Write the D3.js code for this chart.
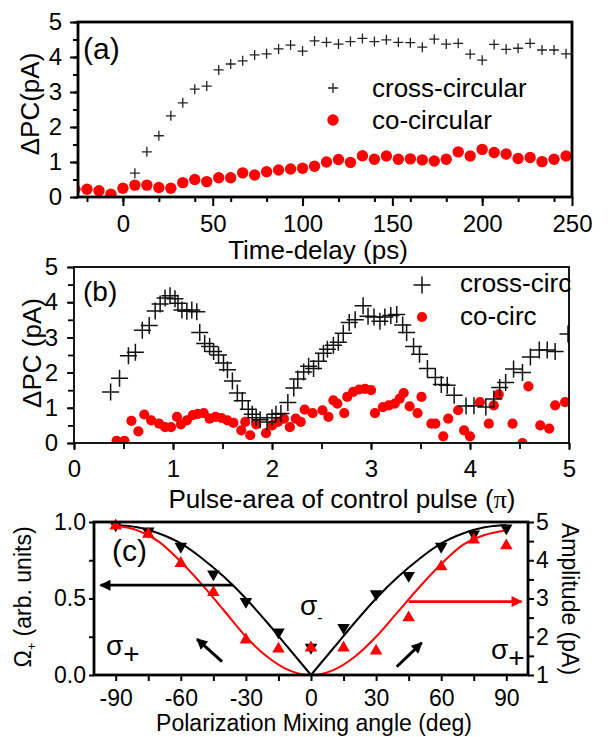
<!DOCTYPE html>
<html>
<head>
<meta charset="utf-8">
<script src="https://cdn.jsdelivr.net/npm/d3@7"></script>
<style>
body { margin: 0; background: #fff; }
</style>
</head>
<body>
<svg width="608" height="737"></svg>
<script>
// ---- data (a): photocurrent vs time delay
var delayCross = [6.67, 13.33, 20, 26.67, 33.33, 40, 46.67, 53.33, 60, 66.67, 73.33, 80, 86.67, 93.33, 100,
  106.67, 113.33, 120, 126.67, 133.33, 140, 146.67, 153.33, 160, 166.67, 173.33, 180, 186.67, 193.33, 200,
  206.67, 213.33, 220, 226.67, 233.33, 240, 246.67];
var pcCrossA = [0.68, 1.29, 1.75, 2.32, 2.69, 3.08, 3.17, 3.63, 3.80, 3.89, 4.06, 4.09, 4.23, 4.34, 4.17,
  4.46, 4.42, 4.37, 4.44, 4.53, 4.44, 4.49, 4.42, 4.41, 4.28, 4.51, 4.37, 4.39, 4.08, 3.91,
  4.36, 4.22, 4.25, 4.39, 4.20, 4.20, 4.09];
var delayCo = [-26.67, -20, -13.33, -6.67, 0, 6.67, 13.33, 20, 26.67, 33.33, 40, 46.67, 53.33, 60, 66.67, 73.33,
  80, 86.67, 93.33, 100, 106.67, 113.33, 120, 126.67, 133.33, 140, 146.67, 153.33, 160, 166.67, 173.33,
  180, 186.67, 193.33, 200, 206.67, 213.33, 220, 226.67, 233.33, 240, 246.67];
var pcCoA = [0.22, 0.22, 0.18, 0.08, 0.25, 0.34, 0.34, 0.27, 0.25, 0.41, 0.50, 0.44, 0.55, 0.55, 0.69, 0.63,
  0.72, 0.77, 0.80, 0.82, 0.88, 1.00, 1.07, 0.99, 1.18, 1.08, 1.17, 1.08, 1.09, 1.06, 1.03,
  1.08, 1.29, 1.17, 1.36, 1.27, 1.23, 1.10, 1.13, 1.01, 1.08, 1.17];
var delayTicks = [0, 50, 100, 150, 200, 250];
var pcTicks = [0, 1, 2, 3, 4, 5];

// ---- data (b): photocurrent vs pulse area
var areaCross = [0.37, 0.46, 0.55, 0.62, 0.69, 0.76, 0.82, 0.87, 0.92, 0.97, 1.02, 1.05, 1.09, 1.14, 1.19,
  1.24, 1.27, 1.32, 1.37, 1.41, 1.46, 1.51, 1.55, 1.6, 1.65, 1.7, 1.76, 1.8, 1.84, 1.88, 1.95, 2.0, 2.04,
  2.09, 2.16, 2.22, 2.26, 2.32, 2.37, 2.42, 2.47, 2.52, 2.56, 2.62, 2.67, 2.72, 2.78, 2.84, 2.92, 2.97,
  3.03, 3.09, 3.14, 3.2, 3.26, 3.32, 3.36, 3.43, 3.49, 3.57, 3.65, 3.71, 3.77, 3.84, 3.96, 4.04, 4.16,
  4.24, 4.3, 4.36, 4.44, 4.53, 4.61, 4.7, 4.78, 4.86, 4.99];
var pcCrossB = [1.45, 1.84, 2.48, 2.58, 3.2, 3.34, 3.75, 3.95, 4.12, 4.18, 4.1, 3.97, 3.78, 3.74, 3.78,
  3.73, 3.14, 2.83, 2.74, 2.6, 2.5, 2.27, 2.08, 1.76, 1.42, 1.2, 0.96, 0.82, 0.72, 0.66, 0.6, 0.72, 0.82,
  0.84, 1.15, 1.56, 1.82, 2.02, 2.18, 2.12, 2.32, 2.55, 2.66, 2.78, 2.86, 3.12, 3.42, 3.5, 3.9, 3.6,
  3.58, 3.46, 3.58, 3.62, 3.65, 3.35, 3.14, 2.74, 2.52, 2.12, 1.86, 1.66, 1.64, 1.36, 1.05, 1.06, 1.02,
  1.25, 1.58, 1.72, 2.1, 2.0, 2.44, 2.64, 2.64, 2.6, 3.1];
var areaCo = [0.43, 0.51, 0.58, 0.65, 0.71, 0.78, 0.86, 0.92, 0.98, 1.04, 1.08, 1.14, 1.2, 1.25, 1.31,
  1.37, 1.43, 1.49, 1.55, 1.61, 1.69, 1.73, 1.78, 1.84, 1.94, 2.0, 2.06, 2.12, 2.18, 2.24, 2.29, 2.33,
  2.41, 2.51, 2.57, 2.62, 2.66, 2.73, 2.76, 2.82, 2.88, 2.94, 3.0, 3.04, 3.12, 3.18, 3.24, 3.29, 3.33,
  3.39, 3.47, 3.51, 3.61, 3.65, 3.73, 3.78, 3.88, 3.94, 4.0, 4.1, 4.19, 4.24, 4.29, 4.43, 4.53, 4.59,
  4.71, 4.8, 4.86, 4.96];
var pcCoB = [0.06, 0.06, 0.63, 0.33, 0.81, 0.64, 0.55, 0.45, 0.45, 0.74, 0.53, 0.64, 0.79, 0.83, 0.85,
  0.69, 0.74, 0.71, 0.64, 0.57, 0.36, 0.6, 0.22, 0.53, 0.28, 0.5, 0.6, 0.69, 0.45, 0.69, 0.6, 0.95,
  0.85, 0.93, 0.74, 1.21, 1.12, 0.85, 1.31, 1.45, 1.52, 1.54, 1.5, 0.85, 1.02, 1.07, 1.12, 1.26, 1.42,
  1.04, 0.85, 1.31, 0.55, 0.55, 0.19, 0.69, 0.93, 0.36, 0.19, 1.16, 0.55, 1.07, 1.38, 0.55, 0.0, 1.61,
  0.5, 0.41, 1.07, 1.16];
var areaTicks = [0, 1, 2, 3, 4, 5];

// ---- data (c): mixing angle
var mixAngles = [-90, -75, -60, -45, -30, -15, 0, 15, 30, 45, 60, 75, 90];
var omegaPts = [0.98, 0.94, 0.84, 0.66, 0.48, 0.28, 0.18, 0.31, 0.53, 0.65, 0.84, 0.92, 0.96];
var ampPts = [4.9, 4.68, 3.92, 3.16, 1.92, 1.68, 1.71, 1.71, 1.63, 2.5, 3.83, 4.53, 4.38];
var fitAnglesLeft = [-90, -80, -70, -60, -50, -40, -30, -20, -10, 0];
var fitAnglesRight = [0, 10, 20, 30, 40, 50, 60, 70, 80, 90];
var omegaFitLeft = [0.98, 0.965, 0.925, 0.86, 0.76, 0.64, 0.50, 0.34, 0.17, 0.0];
var omegaFitRight = [0.0, 0.17, 0.34, 0.50, 0.64, 0.76, 0.86, 0.925, 0.965, 0.98];
var fitAngles = [-90, -80, -70, -60, -50, -40, -30, -20, -10, 0, 10, 20, 30, 40, 50, 60, 70, 80, 90];
var ampFit = [4.9, 4.78, 4.48, 3.96, 3.35, 2.68, 2.0, 1.47, 1.12, 1.0, 1.12, 1.47, 2.0, 2.65, 3.3, 3.9, 4.4, 4.66, 4.78];
var angleTicks = [-90, -60, -30, 0, 30, 60, 90];
var angleMinor = [-75, -45, -15, 15, 45, 75];
var omegaTicks = [0, 0.5, 1];
var omegaMinor = [0.25, 0.75];
var ampTicks = [1, 2, 3, 4, 5];
var ampMinor = [1.5, 2.5, 3.5, 4.5];

var svg = d3.select("svg");
var font = "Arial, 'Liberation Sans', Helvetica, sans-serif";
svg.attr("font-family", font);

var plusPath = function(r) {
  return "M" + (-r) + ",0H" + r + "M0," + (-r) + "V" + r;
};

var styleAxis = function(sel, size, sw) {
  sel.select(".domain").remove();
  sel.selectAll("line").attr("stroke-width", sw);
  sel.attr("font-size", size).attr("font-family", font);
};

var defs = svg.append("defs");

// ================= (a) =================
var xA = d3.scaleLinear().domain([-25, 250]).range([78, 572]);
var yA = d3.scaleLinear().domain([0, 5]).range([197, 22]);

defs.append("clipPath").attr("id", "clipA")
.append("rect")
.attr("x", 78).attr("y", 22).attr("width", 494).attr("height", 175);

svg.append("g")
.attr("transform", "translate(0,197)")
.call(d3.axisBottom(xA).tickValues(xA.ticks(11)).tickSize(5).tickFormat(""))
.call(styleAxis, 24, 2);

svg.append("g")
.attr("transform", "translate(0,197)")
.call(d3.axisBottom(xA).tickValues(delayTicks).tickSize(9).tickPadding(9).tickFormat(d3.format("d")))
.call(styleAxis, 24, 2);

svg.append("g")
.attr("transform", "translate(78,0)")
.call(d3.axisLeft(yA).tickValues(yA.ticks(10)).tickSize(5).tickFormat(""))
.call(styleAxis, 24, 2);

svg.append("g")
.attr("transform", "translate(78,0)")
.call(d3.axisLeft(yA).tickValues(pcTicks).tickSize(8).tickPadding(8).tickFormat(d3.format("d")))
.call(styleAxis, 24, 2);

var dataA = svg.append("g").attr("clip-path", "url(#clipA)");

dataA.selectAll("circle")
.data(delayCo)
.enter().append("circle")
.attr("cx", function(d) { return xA(d); })
.attr("cy", function(d, i) { return yA(pcCoA[i]); })
.attr("r", 5.7)
.attr("fill", "#ff0000");

dataA.selectAll("path.cross")
.data(delayCross)
.enter().append("path")
.attr("class", "cross")
.attr("transform", function(d, i) { return "translate(" + xA(d) + "," + yA(pcCrossA[i]) + ")"; })
.attr("d", plusPath(5))
.attr("stroke", "#222")
.attr("stroke-width", 1.3)
.attr("fill", "none");

svg.append("rect")
.attr("x", 78).attr("y", 22).attr("width", 494).attr("height", 175)
.attr("fill", "none").attr("stroke", "#000").attr("stroke-width", 2.8);

// legend (a)
svg.append("path")
.attr("transform", "translate(333,88)")
.attr("d", plusPath(5))
.attr("stroke", "#222").attr("stroke-width", 1.3);
svg.append("circle")
.attr("cx", 333).attr("cy", 120).attr("r", 5.7).attr("fill", "#ff0000");
svg.append("text").attr("x", 372).attr("y", 97).attr("font-size", 26).text("cross-circular");
svg.append("text").attr("x", 372).attr("y", 129).attr("font-size", 26).text("co-circular");

svg.append("text").attr("x", 83).attr("y", 59).attr("font-size", 30).text("(a)");

svg.append("text")
.attr("x", 318).attr("y", 259)
.attr("text-anchor", "middle")
.attr("font-size", 26)
.text("Time-delay (ps)");

svg.append("text")
.attr("transform", "translate(39,104) rotate(-90)")
.attr("text-anchor", "middle")
.attr("font-size", 26)
.text("\u0394PC(pA)");

// ================= (b) =================
var xB = d3.scaleLinear().domain([0, 5]).range([74, 569]);
var yB = d3.scaleLinear().domain([0, 5]).range([443, 267]);

defs.append("clipPath").attr("id", "clipB")
.append("rect")
.attr("x", 74).attr("y", 267).attr("width", 495).attr("height", 176);

svg.append("g")
.attr("transform", "translate(0,443)")
.call(d3.axisBottom(xB).tickValues(xB.ticks(10)).tickSize(6).tickFormat(""))
.call(styleAxis, 24, 1.8);

svg.append("g")
.attr("transform", "translate(0,443)")
.call(d3.axisBottom(xB).tickValues(areaTicks).tickSize(7).tickPadding(10).tickFormat(d3.format("d")))
.call(styleAxis, 24, 1.8);

svg.append("g")
.attr("transform", "translate(74,0)")
.call(d3.axisLeft(yB).tickValues(yB.ticks(10)).tickSize(6).tickFormat(""))
.call(styleAxis, 24, 1.8);

svg.append("g")
.attr("transform", "translate(74,0)")
.call(d3.axisLeft(yB).tickValues(pcTicks).tickSize(7).tickPadding(9).tickFormat(d3.format("d")))
.call(styleAxis, 24, 1.8);

var dataB = svg.append("g").attr("clip-path", "url(#clipB)");

dataB.selectAll("circle")
.data(areaCo)
.enter().append("circle")
.attr("cx", function(d) { return xB(d); })
.attr("cy", function(d, i) { return yB(pcCoB[i]); })
.attr("r", 5.1)
.attr("fill", "#ff0000");

dataB.selectAll("path.cross")
.data(areaCross)
.enter().append("path")
.attr("class", "cross")
.attr("transform", function(d, i) { return "translate(" + xB(d) + "," + yB(pcCrossB[i]) + ")"; })
.attr("d", plusPath(8.5))
.attr("stroke", "#111")
.attr("stroke-width", 1.5)
.attr("fill", "none");

svg.append("rect")
.attr("x", 74).attr("y", 267).attr("width", 495).attr("height", 176)
.attr("fill", "none").attr("stroke", "#000").attr("stroke-width", 1.8);

// legend (b)
svg.append("path")
.attr("transform", "translate(422,285)")
.attr("d", plusPath(8.5))
.attr("stroke", "#111").attr("stroke-width", 1.5);
svg.append("circle")
.attr("cx", 422).attr("cy", 317).attr("r", 5.1).attr("fill", "#ff0000");
svg.append("text").attr("x", 460).attr("y", 292).attr("font-size", 26).text("cross-circ");
svg.append("text").attr("x", 460).attr("y", 325).attr("font-size", 26).text("co-circ");

svg.append("text").attr("x", 83).attr("y", 301).attr("font-size", 28).text("(b)");

var titleB = svg.append("text")
.attr("x", 342).attr("y", 508)
.attr("text-anchor", "middle")
.attr("font-size", 26);
titleB.append("tspan").text("Pulse-area of control pulse (");
titleB.append("tspan").attr("font-family", "'Liberation Serif', 'DejaVu Serif', serif").text("\u03c0");
titleB.append("tspan").text(")");

svg.append("text")
.attr("transform", "translate(41,353) rotate(-90)")
.attr("text-anchor", "middle")
.attr("font-size", 26)
.text("\u0394PC (pA)");

// ================= (c) =================
var xC = d3.scaleLinear().domain([-100, 100]).range([94, 528]);
var yC = d3.scaleLinear().domain([0, 1]).range([675, 522]);
var yR = d3.scaleLinear().domain([1, 5]).range([675, 522]);

svg.append("g")
.attr("transform", "translate(0,675)")
.call(d3.axisBottom(xC).tickValues(angleMinor).tickSize(6).tickFormat(""))
.call(styleAxis, 23, 2);

svg.append("g")
.attr("transform", "translate(0,675)")
.call(d3.axisBottom(xC).tickValues(angleTicks).tickSize(6).tickPadding(9).tickFormat(function(d) { return String(d); }))
.call(styleAxis, 23, 2);

svg.append("g")
.attr("transform", "translate(94,0)")
.call(d3.axisLeft(yC).tickValues(omegaMinor).tickSize(5).tickFormat(""))
.call(styleAxis, 23, 2);

svg.append("g")
.attr("transform", "translate(94,0)")
.call(d3.axisLeft(yC).tickValues(omegaTicks).tickSize(5).tickPadding(3).tickFormat(d3.format(".1f")))
.call(styleAxis, 23, 2);

svg.append("g")
.attr("transform", "translate(528,0)")
.call(d3.axisRight(yR).tickValues(ampMinor).tickSize(6).tickFormat(""))
.call(styleAxis, 23, 2);

svg.append("g")
.attr("transform", "translate(528,0)")
.call(d3.axisRight(yR).tickValues(ampTicks).tickSize(6).tickPadding(2).tickFormat(d3.format("d")))
.call(styleAxis, 23, 2);

// fits
var lineOmega = d3.line()
.x(function(d) { return xC(d[0]); })
.y(function(d) { return yC(d[1]); })
.curve(d3.curveMonotoneX);

var lineAmp = d3.line()
.x(function(d) { return xC(d[0]); })
.y(function(d) { return yR(d[1]); })
.curve(d3.curveMonotoneX);

svg.append("path")
.attr("d", lineOmega(d3.zip(fitAnglesLeft, omegaFitLeft)))
.attr("fill", "none").attr("stroke", "#000").attr("stroke-width", 2);
svg.append("path")
.attr("d", lineOmega(d3.zip(fitAnglesRight, omegaFitRight)))
.attr("fill", "none").attr("stroke", "#000").attr("stroke-width", 2);
svg.append("path")
.attr("d", lineAmp(d3.zip(fitAngles, ampFit)))
.attr("fill", "none").attr("stroke", "#ff0000").attr("stroke-width", 2);

var tri = d3.symbol().type(d3.symbolTriangle).size(68);

svg.append("g").selectAll("path")
.data(mixAngles)
.enter().append("path")
.attr("transform", function(d, i) { return "translate(" + xC(d) + "," + yC(omegaPts[i]) + ") rotate(180)"; })
.attr("d", tri)
.attr("fill", "#000");

svg.append("g").selectAll("path")
.data(mixAngles)
.enter().append("path")
.attr("transform", function(d, i) { return "translate(" + xC(d) + "," + yR(ampPts[i]) + ")"; })
.attr("d", tri)
.attr("fill", "#ff0000");

svg.append("rect")
.attr("x", 94).attr("y", 522).attr("width", 434).attr("height", 153)
.attr("fill", "none").attr("stroke", "#000").attr("stroke-width", 2.8);

// arrows
var headFor = function(id, color, w, h) {
  defs.append("marker")
  .attr("id", id)
  .attr("viewBox", "0 0 10 10")
  .attr("refX", 9)
  .attr("refY", 5)
  .attr("markerUnits", "userSpaceOnUse")
  .attr("markerWidth", w)
  .attr("markerHeight", h)
  .attr("orient", "auto")
  .append("path")
  .attr("d", "M0,0L10,5L0,10z")
  .attr("fill", color);
};
headFor("headBlack", "#000", 20, 11);
headFor("headRed", "#ff0000", 21, 11);
headFor("headSmall", "#000", 13, 11);

svg.append("line")
.attr("x1", xC(-36)).attr("y1", yC(0.587))
.attr("x2", xC(-97)).attr("y2", yC(0.587))
.attr("stroke", "#000").attr("stroke-width", 2.8)
.attr("marker-end", "url(#headBlack)");

svg.append("line")
.attr("x1", xC(45)).attr("y1", yR(2.92))
.attr("x2", xC(97)).attr("y2", yR(2.92))
.attr("stroke", "#ff0000").attr("stroke-width", 2.8)
.attr("marker-end", "url(#headRed)");

svg.append("line")
.attr("x1", xC(-41)).attr("y1", yC(0.087))
.attr("x2", xC(-52.5)).attr("y2", yC(0.235))
.attr("stroke", "#000").attr("stroke-width", 3)
.attr("marker-end", "url(#headSmall)");

svg.append("line")
.attr("x1", xC(39.5)).attr("y1", yC(0.054))
.attr("x2", xC(51)).attr("y2", yC(0.21))
.attr("stroke", "#000").attr("stroke-width", 3)
.attr("marker-end", "url(#headSmall)");

// sigma labels
var sigLeft = svg.append("text").attr("x", 106).attr("y", 655).attr("font-size", 28);
sigLeft.append("tspan").text("\u03c3");
sigLeft.append("tspan").attr("dy", 8).text("+");

var sigRight = svg.append("text").attr("x", 491).attr("y", 659).attr("font-size", 28);
sigRight.append("tspan").text("\u03c3");
sigRight.append("tspan").attr("dy", 8).text("+");

var sigMid = svg.append("text").attr("x", 300).attr("y", 615).attr("font-size", 28);
sigMid.append("tspan").text("\u03c3");
sigMid.append("tspan").attr("dy", 8).attr("font-size", 16).text("-");

svg.append("text").attr("x", 112).attr("y", 561).attr("font-size", 30).text("(c)");

svg.append("text")
.attr("x", 314).attr("y", 731)
.attr("text-anchor", "middle")
.attr("font-size", 23)
.text("Polarization Mixing angle (deg)");

var yLabC = svg.append("text")
.attr("transform", "translate(31,597) rotate(-90)")
.attr("text-anchor", "middle")
.attr("font-size", 23);
yLabC.append("tspan").text("\u03a9");
yLabC.append("tspan").attr("dy", 5).attr("font-size", 13).text("+");
yLabC.append("tspan").attr("dy", -5).text(" (arb. units)");

svg.append("text")
.attr("transform", "translate(562,599) rotate(90)")
.attr("text-anchor", "middle")
.attr("font-size", 23)
.text("Amplitude (pA)");
</script>
</body>
</html>
